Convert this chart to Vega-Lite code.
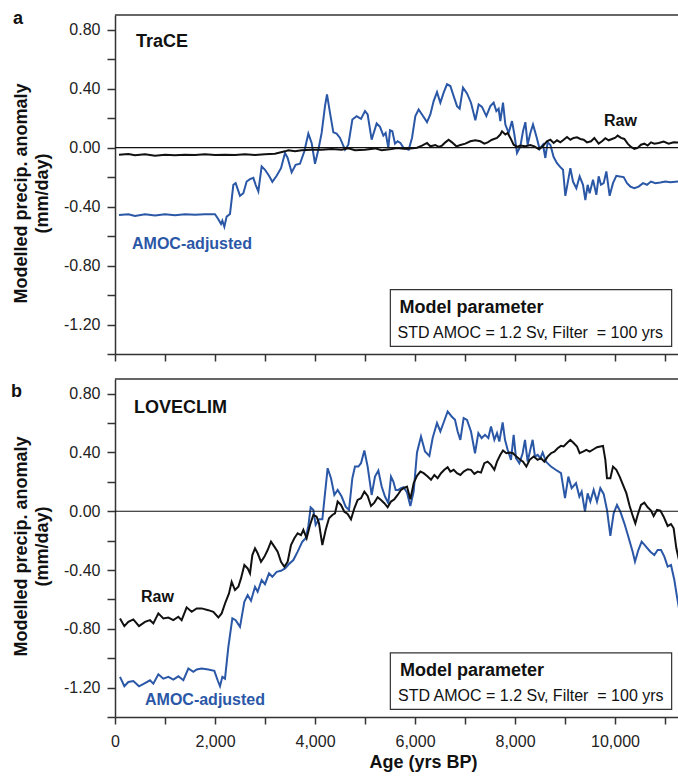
{
  "$schema": "https://vega.github.io/schema/vega-lite/v6.json",
  "padding": {"left": 11, "top": 9, "right": 0, "bottom": 5},
  "spacing": 25,
  "bounds": "flush",
  "config": {
    "font": "Liberation Sans",
    "locale": {"number": {"decimal": ".", "thousands": ",", "grouping": [3], "currency": ["$", ""], "minus": "-"}},
    "view": {"stroke": null},
    "axis": {
      "grid": false,
      "domainColor": "#333333",
      "domainWidth": 1.5,
      "tickColor": "#333333",
      "tickWidth": 1.5,
      "labelFontSize": 16,
      "labelColor": "#222222",
      "labelFlush": false,
      "labelOverlap": false,
      "titleFontSize": 18,
      "titleFontWeight": "bold",
      "titleColor": "#111111"
    },
    "title": {"fontSize": 18, "fontWeight": "bold", "anchor": "start", "frame": "group", "color": "#111111", "offset": 0, "baseline": "alphabetic"}
  },
  "datasets": {
    "trace_adj": [
      {"age": 80, "anomaly": -0.457}, {"age": 267, "anomaly": -0.452}, {"age": 400, "anomaly": -0.464}, {"age": 600, "anomaly": -0.452},
      {"age": 800, "anomaly": -0.46}, {"age": 1000, "anomaly": -0.452}, {"age": 1200, "anomaly": -0.458}, {"age": 1400, "anomaly": -0.452},
      {"age": 1600, "anomaly": -0.455}, {"age": 1800, "anomaly": -0.452}, {"age": 2000, "anomaly": -0.452}, {"age": 2067, "anomaly": -0.486},
      {"age": 2120, "anomaly": -0.518}, {"age": 2147, "anomaly": -0.495}, {"age": 2187, "anomaly": -0.537}, {"age": 2233, "anomaly": -0.468},
      {"age": 2300, "anomaly": -0.45}, {"age": 2367, "anomaly": -0.252}, {"age": 2413, "anomaly": -0.241}, {"age": 2500, "anomaly": -0.327},
      {"age": 2567, "anomaly": -0.309}, {"age": 2633, "anomaly": -0.23}, {"age": 2700, "anomaly": -0.214}, {"age": 2767, "anomaly": -0.205},
      {"age": 2813, "anomaly": -0.252}, {"age": 2867, "anomaly": -0.297}, {"age": 2933, "anomaly": -0.127}, {"age": 3000, "anomaly": -0.15},
      {"age": 3080, "anomaly": -0.191}, {"age": 3147, "anomaly": -0.232}, {"age": 3233, "anomaly": -0.191}, {"age": 3320, "anomaly": -0.139},
      {"age": 3400, "anomaly": -0.036}, {"age": 3453, "anomaly": -0.07}, {"age": 3533, "anomaly": -0.168}, {"age": 3613, "anomaly": -0.116},
      {"age": 3700, "anomaly": -0.109}, {"age": 3787, "anomaly": -0.025}, {"age": 3867, "anomaly": 0.095}, {"age": 3933, "anomaly": 0.032},
      {"age": 4000, "anomaly": -0.109}, {"age": 4067, "anomaly": -0.014}, {"age": 4133, "anomaly": 0.1}, {"age": 4200, "anomaly": 0.282},
      {"age": 4240, "anomaly": 0.361}, {"age": 4300, "anomaly": 0.236}, {"age": 4367, "anomaly": 0.104}, {"age": 4433, "anomaly": 0.095},
      {"age": 4500, "anomaly": 0.066}, {"age": 4600, "anomaly": -0.014}, {"age": 4667, "anomaly": 0.02}, {"age": 4747, "anomaly": 0.191},
      {"age": 4833, "anomaly": 0.214}, {"age": 4920, "anomaly": 0.195}, {"age": 5000, "anomaly": 0.248}, {"age": 5053, "anomaly": 0.225},
      {"age": 5133, "anomaly": 0.054}, {"age": 5233, "anomaly": 0.164}, {"age": 5300, "anomaly": 0.141}, {"age": 5367, "anomaly": 0.082},
      {"age": 5413, "anomaly": 0.1}, {"age": 5467, "anomaly": -0.002}, {"age": 5500, "anomaly": 0.118}, {"age": 5547, "anomaly": 0.111},
      {"age": 5600, "anomaly": 0.027}, {"age": 5653, "anomaly": 0.043}, {"age": 5707, "anomaly": 0.032}, {"age": 5773, "anomaly": -0.002},
      {"age": 5873, "anomaly": -0.014}, {"age": 5940, "anomaly": 0.066}, {"age": 6007, "anomaly": 0.214}, {"age": 6073, "anomaly": 0.259},
      {"age": 6140, "anomaly": 0.225}, {"age": 6240, "anomaly": 0.173}, {"age": 6307, "anomaly": 0.225}, {"age": 6373, "anomaly": 0.316},
      {"age": 6440, "anomaly": 0.377}, {"age": 6507, "anomaly": 0.305}, {"age": 6573, "anomaly": 0.373}, {"age": 6640, "anomaly": 0.43},
      {"age": 6707, "anomaly": 0.418}, {"age": 6773, "anomaly": 0.35}, {"age": 6840, "anomaly": 0.282}, {"age": 6893, "anomaly": 0.264},
      {"age": 6960, "anomaly": 0.407}, {"age": 7040, "anomaly": 0.368}, {"age": 7120, "anomaly": 0.305}, {"age": 7207, "anomaly": 0.186},
      {"age": 7273, "anomaly": 0.293}, {"age": 7340, "anomaly": 0.277}, {"age": 7427, "anomaly": 0.214}, {"age": 7507, "anomaly": 0.282},
      {"age": 7573, "anomaly": 0.305}, {"age": 7627, "anomaly": 0.248}, {"age": 7673, "anomaly": 0.264}, {"age": 7707, "anomaly": 0.18},
      {"age": 7760, "anomaly": 0.305}, {"age": 7807, "anomaly": 0.157}, {"age": 7873, "anomaly": 0.1}, {"age": 7940, "anomaly": 0.18},
      {"age": 7987, "anomaly": 0.091}, {"age": 8040, "anomaly": -0.036}, {"age": 8107, "anomaly": 0.009}, {"age": 8160, "anomaly": 0.111},
      {"age": 8207, "anomaly": 0.173}, {"age": 8253, "anomaly": 0.02}, {"age": 8307, "anomaly": 0.1}, {"age": 8360, "anomaly": 0.157},
      {"age": 8427, "anomaly": 0.077}, {"age": 8493, "anomaly": -0.009}, {"age": 8560, "anomaly": 0.02}, {"age": 8607, "anomaly": -0.07},
      {"age": 8653, "anomaly": 0.036}, {"age": 8707, "anomaly": 0.02}, {"age": 8773, "anomaly": -0.064}, {"age": 8840, "anomaly": -0.105},
      {"age": 8907, "anomaly": -0.132}, {"age": 8960, "anomaly": -0.15}, {"age": 9007, "anomaly": -0.327}, {"age": 9053, "anomaly": -0.241},
      {"age": 9107, "anomaly": -0.139}, {"age": 9160, "anomaly": -0.23}, {"age": 9227, "anomaly": -0.275}, {"age": 9293, "anomaly": -0.195},
      {"age": 9360, "anomaly": -0.252}, {"age": 9407, "anomaly": -0.355}, {"age": 9453, "anomaly": -0.252}, {"age": 9493, "anomaly": -0.309},
      {"age": 9560, "anomaly": -0.218}, {"age": 9627, "anomaly": -0.32}, {"age": 9673, "anomaly": -0.195}, {"age": 9720, "anomaly": -0.252},
      {"age": 9773, "anomaly": -0.241}, {"age": 9827, "anomaly": -0.161}, {"age": 9893, "anomaly": -0.327}, {"age": 9960, "anomaly": -0.241},
      {"age": 10027, "anomaly": -0.191}, {"age": 10093, "anomaly": -0.195}, {"age": 10173, "anomaly": -0.2}, {"age": 10240, "anomaly": -0.241},
      {"age": 10307, "anomaly": -0.264}, {"age": 10387, "anomaly": -0.275}, {"age": 10473, "anomaly": -0.264}, {"age": 10560, "anomaly": -0.241},
      {"age": 10640, "anomaly": -0.252}, {"age": 10720, "anomaly": -0.23}, {"age": 10807, "anomaly": -0.241}, {"age": 10907, "anomaly": -0.236},
      {"age": 11007, "anomaly": -0.23}, {"age": 11107, "anomaly": -0.234}, {"age": 11280, "anomaly": -0.23}
    ],
    "trace_raw": [
      {"age": 80, "anomaly": -0.048}, {"age": 267, "anomaly": -0.043}, {"age": 400, "anomaly": -0.052}, {"age": 600, "anomaly": -0.045},
      {"age": 800, "anomaly": -0.055}, {"age": 1000, "anomaly": -0.048}, {"age": 1200, "anomaly": -0.052}, {"age": 1400, "anomaly": -0.048},
      {"age": 1600, "anomaly": -0.05}, {"age": 1800, "anomaly": -0.045}, {"age": 2000, "anomaly": -0.05}, {"age": 2200, "anomaly": -0.048},
      {"age": 2400, "anomaly": -0.05}, {"age": 2600, "anomaly": -0.045}, {"age": 2800, "anomaly": -0.05}, {"age": 3000, "anomaly": -0.045},
      {"age": 3200, "anomaly": -0.041}, {"age": 3400, "anomaly": -0.025}, {"age": 3467, "anomaly": -0.018}, {"age": 3600, "anomaly": -0.025},
      {"age": 3733, "anomaly": -0.018}, {"age": 3933, "anomaly": -0.014}, {"age": 4133, "anomaly": -0.014}, {"age": 4333, "anomaly": -0.009},
      {"age": 4533, "anomaly": -0.014}, {"age": 4667, "anomaly": -0.005}, {"age": 4800, "anomaly": -0.018}, {"age": 5000, "anomaly": -0.014},
      {"age": 5200, "anomaly": -0.005}, {"age": 5333, "anomaly": -0.018}, {"age": 5533, "anomaly": -0.009}, {"age": 5640, "anomaly": -0.002},
      {"age": 5773, "anomaly": -0.007}, {"age": 5907, "anomaly": -0.005}, {"age": 6040, "anomaly": 0.0}, {"age": 6140, "anomaly": 0.014},
      {"age": 6240, "anomaly": 0.032}, {"age": 6307, "anomaly": 0.009}, {"age": 6407, "anomaly": 0.018}, {"age": 6473, "anomaly": 0.005},
      {"age": 6540, "anomaly": 0.014}, {"age": 6607, "anomaly": 0.036}, {"age": 6673, "anomaly": 0.054}, {"age": 6740, "anomaly": 0.036},
      {"age": 6827, "anomaly": 0.009}, {"age": 6907, "anomaly": 0.018}, {"age": 7007, "anomaly": 0.027}, {"age": 7107, "anomaly": 0.043},
      {"age": 7207, "anomaly": 0.05}, {"age": 7307, "anomaly": 0.043}, {"age": 7387, "anomaly": 0.027}, {"age": 7453, "anomaly": 0.036},
      {"age": 7540, "anomaly": 0.054}, {"age": 7640, "anomaly": 0.066}, {"age": 7707, "anomaly": 0.089}, {"age": 7740, "anomaly": 0.111},
      {"age": 7807, "anomaly": 0.089}, {"age": 7853, "anomaly": 0.1}, {"age": 7907, "anomaly": 0.066}, {"age": 7973, "anomaly": 0.02},
      {"age": 8040, "anomaly": 0.005}, {"age": 8107, "anomaly": 0.014}, {"age": 8207, "anomaly": 0.009}, {"age": 8307, "anomaly": 0.018},
      {"age": 8387, "anomaly": 0.009}, {"age": 8473, "anomaly": -0.009}, {"age": 8540, "anomaly": 0.005}, {"age": 8640, "anomaly": 0.043},
      {"age": 8707, "anomaly": 0.054}, {"age": 8773, "anomaly": 0.032}, {"age": 8840, "anomaly": 0.05}, {"age": 8907, "anomaly": 0.036},
      {"age": 8973, "anomaly": 0.054}, {"age": 9040, "anomaly": 0.072}, {"age": 9107, "anomaly": 0.054}, {"age": 9173, "anomaly": 0.066},
      {"age": 9240, "anomaly": 0.07}, {"age": 9307, "anomaly": 0.059}, {"age": 9373, "anomaly": 0.054}, {"age": 9440, "anomaly": 0.036},
      {"age": 9520, "anomaly": 0.043}, {"age": 9587, "anomaly": 0.066}, {"age": 9673, "anomaly": 0.027}, {"age": 9740, "anomaly": 0.043},
      {"age": 9807, "anomaly": 0.064}, {"age": 9873, "anomaly": 0.05}, {"age": 9940, "anomaly": 0.059}, {"age": 10007, "anomaly": 0.068},
      {"age": 10053, "anomaly": 0.082}, {"age": 10120, "anomaly": 0.066}, {"age": 10187, "anomaly": 0.059}, {"age": 10253, "anomaly": 0.027},
      {"age": 10320, "anomaly": 0.005}, {"age": 10387, "anomaly": -0.009}, {"age": 10453, "anomaly": -0.002}, {"age": 10520, "anomaly": 0.02},
      {"age": 10587, "anomaly": 0.027}, {"age": 10653, "anomaly": 0.014}, {"age": 10720, "anomaly": 0.036}, {"age": 10787, "anomaly": 0.027},
      {"age": 10873, "anomaly": 0.032}, {"age": 10973, "anomaly": 0.041}, {"age": 11073, "anomaly": 0.027}, {"age": 11173, "anomaly": 0.036},
      {"age": 11280, "anomaly": 0.034}
    ],
    "loveclim_adj": [
      {"age": 100, "anomaly": -1.127}, {"age": 187, "anomaly": -1.191}, {"age": 267, "anomaly": -1.162}, {"age": 367, "anomaly": -1.155},
      {"age": 480, "anomaly": -1.191}, {"age": 600, "anomaly": -1.169}, {"age": 700, "anomaly": -1.15}, {"age": 767, "anomaly": -1.173},
      {"age": 867, "anomaly": -1.109}, {"age": 967, "anomaly": -1.139}, {"age": 1067, "anomaly": -1.127}, {"age": 1167, "anomaly": -1.145},
      {"age": 1267, "anomaly": -1.123}, {"age": 1367, "anomaly": -1.15}, {"age": 1467, "anomaly": -1.07}, {"age": 1567, "anomaly": -1.093},
      {"age": 1633, "anomaly": -1.077}, {"age": 1733, "anomaly": -1.07}, {"age": 1867, "anomaly": -1.077}, {"age": 1987, "anomaly": -1.086},
      {"age": 2053, "anomaly": -1.15}, {"age": 2100, "anomaly": -1.191}, {"age": 2147, "anomaly": -1.127}, {"age": 2200, "anomaly": -1.139},
      {"age": 2267, "anomaly": -0.923}, {"age": 2347, "anomaly": -0.729}, {"age": 2413, "anomaly": -0.741}, {"age": 2500, "anomaly": -0.787},
      {"age": 2587, "anomaly": -0.616}, {"age": 2653, "anomaly": -0.57}, {"age": 2720, "anomaly": -0.609}, {"age": 2800, "anomaly": -0.514},
      {"age": 2853, "anomaly": -0.548}, {"age": 2933, "anomaly": -0.468}, {"age": 3000, "anomaly": -0.496}, {"age": 3080, "anomaly": -0.423},
      {"age": 3147, "anomaly": -0.446}, {"age": 3233, "anomaly": -0.412}, {"age": 3320, "anomaly": -0.405}, {"age": 3400, "anomaly": -0.389},
      {"age": 3480, "anomaly": -0.359}, {"age": 3567, "anomaly": -0.332}, {"age": 3653, "anomaly": -0.275}, {"age": 3747, "anomaly": -0.207},
      {"age": 3813, "anomaly": -0.184}, {"age": 3867, "anomaly": -0.1}, {"age": 3913, "anomaly": 0.027}, {"age": 3967, "anomaly": 0.009},
      {"age": 4013, "anomaly": -0.093}, {"age": 4080, "anomaly": -0.055}, {"age": 4147, "anomaly": -0.055}, {"age": 4187, "anomaly": 0.077},
      {"age": 4253, "anomaly": 0.293}, {"age": 4320, "anomaly": 0.225}, {"age": 4387, "anomaly": 0.111}, {"age": 4453, "anomaly": 0.145},
      {"age": 4533, "anomaly": 0.1}, {"age": 4613, "anomaly": 0.031}, {"age": 4680, "anomaly": 0.009}, {"age": 4747, "anomaly": 0.225},
      {"age": 4800, "anomaly": 0.304}, {"age": 4867, "anomaly": 0.304}, {"age": 4920, "anomaly": 0.327}, {"age": 4987, "anomaly": 0.413},
      {"age": 5053, "anomaly": 0.304}, {"age": 5133, "anomaly": 0.111}, {"age": 5200, "anomaly": 0.236}, {"age": 5267, "anomaly": 0.277},
      {"age": 5333, "anomaly": 0.168}, {"age": 5400, "anomaly": 0.1}, {"age": 5467, "anomaly": 0.055}, {"age": 5520, "anomaly": 0.236},
      {"age": 5567, "anomaly": 0.202}, {"age": 5613, "anomaly": 0.145}, {"age": 5667, "anomaly": 0.145}, {"age": 5720, "anomaly": 0.157},
      {"age": 5773, "anomaly": 0.164}, {"age": 5840, "anomaly": 0.127}, {"age": 5907, "anomaly": 0.036}, {"age": 5973, "anomaly": 0.134},
      {"age": 6040, "anomaly": 0.4}, {"age": 6120, "anomaly": 0.509}, {"age": 6200, "anomaly": 0.407}, {"age": 6287, "anomaly": 0.377},
      {"age": 6353, "anomaly": 0.498}, {"age": 6440, "anomaly": 0.6}, {"age": 6507, "anomaly": 0.543}, {"age": 6573, "anomaly": 0.604},
      {"age": 6653, "anomaly": 0.679}, {"age": 6733, "anomaly": 0.645}, {"age": 6800, "anomaly": 0.622}, {"age": 6853, "anomaly": 0.543},
      {"age": 6907, "anomaly": 0.486}, {"age": 6973, "anomaly": 0.634}, {"age": 7040, "anomaly": 0.622}, {"age": 7120, "anomaly": 0.543},
      {"age": 7200, "anomaly": 0.395}, {"age": 7267, "anomaly": 0.532}, {"age": 7333, "anomaly": 0.498}, {"age": 7400, "anomaly": 0.52},
      {"age": 7467, "anomaly": 0.498}, {"age": 7520, "anomaly": 0.577}, {"age": 7587, "anomaly": 0.486}, {"age": 7640, "anomaly": 0.532},
      {"age": 7687, "anomaly": 0.475}, {"age": 7753, "anomaly": 0.604}, {"age": 7800, "anomaly": 0.486}, {"age": 7853, "anomaly": 0.418},
      {"age": 7920, "anomaly": 0.35}, {"age": 7973, "anomaly": 0.52}, {"age": 8020, "anomaly": 0.361}, {"age": 8087, "anomaly": 0.327},
      {"age": 8153, "anomaly": 0.395}, {"age": 8200, "anomaly": 0.486}, {"age": 8253, "anomaly": 0.338}, {"age": 8320, "anomaly": 0.44},
      {"age": 8353, "anomaly": 0.486}, {"age": 8400, "anomaly": 0.372}, {"age": 8453, "anomaly": 0.384}, {"age": 8507, "anomaly": 0.361},
      {"age": 8553, "anomaly": 0.4}, {"age": 8620, "anomaly": 0.338}, {"age": 8720, "anomaly": 0.304}, {"age": 8820, "anomaly": 0.281},
      {"age": 8920, "anomaly": 0.259}, {"age": 9000, "anomaly": 0.089}, {"age": 9067, "anomaly": 0.236}, {"age": 9133, "anomaly": 0.157},
      {"age": 9220, "anomaly": 0.191}, {"age": 9287, "anomaly": 0.1}, {"age": 9333, "anomaly": 0.134}, {"age": 9400, "anomaly": -0.003},
      {"age": 9453, "anomaly": 0.122}, {"age": 9507, "anomaly": 0.066}, {"age": 9573, "anomaly": 0.145}, {"age": 9640, "anomaly": 0.066},
      {"age": 9707, "anomaly": 0.157}, {"age": 9773, "anomaly": 0.118}, {"age": 9840, "anomaly": 0.009}, {"age": 9907, "anomaly": -0.168},
      {"age": 9973, "anomaly": -0.014}, {"age": 10040, "anomaly": 0.043}, {"age": 10107, "anomaly": -0.002}, {"age": 10187, "anomaly": -0.082},
      {"age": 10267, "anomaly": -0.173}, {"age": 10353, "anomaly": -0.275}, {"age": 10400, "anomaly": -0.343}, {"age": 10467, "anomaly": -0.264},
      {"age": 10533, "anomaly": -0.207}, {"age": 10620, "anomaly": -0.241}, {"age": 10707, "anomaly": -0.275}, {"age": 10787, "anomaly": -0.298},
      {"age": 10853, "anomaly": -0.264}, {"age": 10920, "anomaly": -0.264}, {"age": 10987, "anomaly": -0.309}, {"age": 11053, "anomaly": -0.377},
      {"age": 11120, "anomaly": -0.366}, {"age": 11187, "anomaly": -0.468}, {"age": 11240, "anomaly": -0.582}, {"age": 11280, "anomaly": -0.661}
    ],
    "loveclim_raw": [
      {"age": 100, "anomaly": -0.729}, {"age": 187, "anomaly": -0.782}, {"age": 267, "anomaly": -0.753}, {"age": 367, "anomaly": -0.736},
      {"age": 480, "anomaly": -0.782}, {"age": 600, "anomaly": -0.753}, {"age": 700, "anomaly": -0.741}, {"age": 767, "anomaly": -0.763},
      {"age": 867, "anomaly": -0.695}, {"age": 967, "anomaly": -0.729}, {"age": 1067, "anomaly": -0.723}, {"age": 1167, "anomaly": -0.741},
      {"age": 1267, "anomaly": -0.718}, {"age": 1333, "anomaly": -0.741}, {"age": 1433, "anomaly": -0.654}, {"age": 1533, "anomaly": -0.684},
      {"age": 1633, "anomaly": -0.661}, {"age": 1733, "anomaly": -0.661}, {"age": 1867, "anomaly": -0.673}, {"age": 1967, "anomaly": -0.684},
      {"age": 2067, "anomaly": -0.723}, {"age": 2133, "anomaly": -0.695}, {"age": 2213, "anomaly": -0.616}, {"age": 2280, "anomaly": -0.559},
      {"age": 2333, "anomaly": -0.48}, {"age": 2400, "anomaly": -0.536}, {"age": 2467, "anomaly": -0.514}, {"age": 2520, "anomaly": -0.457},
      {"age": 2587, "anomaly": -0.366}, {"age": 2653, "anomaly": -0.389}, {"age": 2700, "anomaly": -0.423}, {"age": 2747, "anomaly": -0.298},
      {"age": 2800, "anomaly": -0.252}, {"age": 2853, "anomaly": -0.286}, {"age": 2920, "anomaly": -0.344}, {"age": 2987, "anomaly": -0.31},
      {"age": 3053, "anomaly": -0.264}, {"age": 3120, "anomaly": -0.207}, {"age": 3187, "anomaly": -0.241}, {"age": 3253, "anomaly": -0.275},
      {"age": 3320, "anomaly": -0.344}, {"age": 3387, "anomaly": -0.378}, {"age": 3453, "anomaly": -0.344}, {"age": 3520, "anomaly": -0.23},
      {"age": 3587, "anomaly": -0.184}, {"age": 3653, "anomaly": -0.15}, {"age": 3720, "anomaly": -0.162}, {"age": 3767, "anomaly": -0.127},
      {"age": 3833, "anomaly": -0.184}, {"age": 3900, "anomaly": -0.093}, {"age": 3967, "anomaly": -0.025}, {"age": 4033, "anomaly": -0.037},
      {"age": 4080, "anomaly": -0.082}, {"age": 4147, "anomaly": -0.23}, {"age": 4213, "anomaly": -0.127}, {"age": 4280, "anomaly": -0.048},
      {"age": 4347, "anomaly": -0.025}, {"age": 4400, "anomaly": -0.014}, {"age": 4453, "anomaly": 0.066}, {"age": 4520, "anomaly": 0.043},
      {"age": 4587, "anomaly": -0.003}, {"age": 4653, "anomaly": -0.018}, {"age": 4720, "anomaly": -0.055}, {"age": 4787, "anomaly": 0.02},
      {"age": 4853, "anomaly": 0.077}, {"age": 4920, "anomaly": 0.089}, {"age": 4987, "anomaly": 0.134}, {"age": 5053, "anomaly": 0.104},
      {"age": 5120, "anomaly": 0.036}, {"age": 5187, "anomaly": 0.059}, {"age": 5253, "anomaly": 0.095}, {"age": 5320, "anomaly": 0.077},
      {"age": 5387, "anomaly": 0.055}, {"age": 5453, "anomaly": 0.027}, {"age": 5520, "anomaly": 0.066}, {"age": 5587, "anomaly": 0.082},
      {"age": 5653, "anomaly": 0.111}, {"age": 5720, "anomaly": 0.145}, {"age": 5773, "anomaly": 0.157}, {"age": 5840, "anomaly": 0.168},
      {"age": 5907, "anomaly": 0.082}, {"age": 5973, "anomaly": 0.191}, {"age": 6040, "anomaly": 0.241}, {"age": 6107, "anomaly": 0.27},
      {"age": 6173, "anomaly": 0.259}, {"age": 6253, "anomaly": 0.236}, {"age": 6320, "anomaly": 0.214}, {"age": 6387, "anomaly": 0.247},
      {"age": 6453, "anomaly": 0.225}, {"age": 6520, "anomaly": 0.259}, {"age": 6587, "anomaly": 0.282}, {"age": 6653, "anomaly": 0.3},
      {"age": 6707, "anomaly": 0.27}, {"age": 6773, "anomaly": 0.282}, {"age": 6840, "anomaly": 0.259}, {"age": 6907, "anomaly": 0.247},
      {"age": 6973, "anomaly": 0.27}, {"age": 7053, "anomaly": 0.286}, {"age": 7120, "anomaly": 0.282}, {"age": 7187, "anomaly": 0.254},
      {"age": 7253, "anomaly": 0.27}, {"age": 7320, "anomaly": 0.263}, {"age": 7387, "anomaly": 0.327}, {"age": 7453, "anomaly": 0.338},
      {"age": 7520, "anomaly": 0.316}, {"age": 7587, "anomaly": 0.282}, {"age": 7640, "anomaly": 0.338}, {"age": 7707, "anomaly": 0.384},
      {"age": 7760, "anomaly": 0.413}, {"age": 7827, "anomaly": 0.395}, {"age": 7893, "anomaly": 0.4}, {"age": 7960, "anomaly": 0.395},
      {"age": 8027, "anomaly": 0.372}, {"age": 8093, "anomaly": 0.354}, {"age": 8160, "anomaly": 0.338}, {"age": 8227, "anomaly": 0.304},
      {"age": 8293, "anomaly": 0.35}, {"age": 8373, "anomaly": 0.372}, {"age": 8453, "anomaly": 0.35}, {"age": 8520, "anomaly": 0.361},
      {"age": 8587, "anomaly": 0.338}, {"age": 8653, "anomaly": 0.372}, {"age": 8720, "anomaly": 0.395}, {"age": 8787, "anomaly": 0.406},
      {"age": 8853, "anomaly": 0.429}, {"age": 8920, "anomaly": 0.445}, {"age": 8973, "anomaly": 0.441}, {"age": 9040, "anomaly": 0.464},
      {"age": 9107, "anomaly": 0.486}, {"age": 9173, "anomaly": 0.464}, {"age": 9240, "anomaly": 0.441}, {"age": 9293, "anomaly": 0.395},
      {"age": 9360, "anomaly": 0.406}, {"age": 9427, "anomaly": 0.418}, {"age": 9493, "anomaly": 0.406}, {"age": 9573, "anomaly": 0.422},
      {"age": 9640, "anomaly": 0.436}, {"age": 9707, "anomaly": 0.441}, {"age": 9760, "anomaly": 0.445}, {"age": 9807, "anomaly": 0.35},
      {"age": 9840, "anomaly": 0.225}, {"age": 9907, "anomaly": 0.225}, {"age": 9960, "anomaly": 0.304}, {"age": 10027, "anomaly": 0.282},
      {"age": 10093, "anomaly": 0.236}, {"age": 10160, "anomaly": 0.179}, {"age": 10227, "anomaly": 0.123}, {"age": 10293, "anomaly": 0.036},
      {"age": 10360, "anomaly": -0.037}, {"age": 10407, "anomaly": -0.082}, {"age": 10453, "anomaly": -0.025}, {"age": 10520, "anomaly": 0.043},
      {"age": 10587, "anomaly": 0.059}, {"age": 10653, "anomaly": 0.027}, {"age": 10720, "anomaly": 0.005}, {"age": 10773, "anomaly": -0.032},
      {"age": 10840, "anomaly": 0.009}, {"age": 10907, "anomaly": 0.005}, {"age": 10973, "anomaly": -0.037}, {"age": 11053, "anomaly": -0.1},
      {"age": 11120, "anomaly": -0.087}, {"age": 11173, "anomaly": -0.116}, {"age": 11227, "anomaly": -0.252}, {"age": 11280, "anomaly": -0.332}
    ]
  },
  "vconcat": [
    {
      "title": {"text": "a", "dx": -102, "dy": 17.5},
      "width": 564,
      "height": 339,
      "resolve": {"axis": {"y": "independent"}},
      "layer": [
        {
          "data": {"name": "trace_adj"},
          "mark": {"type": "line", "color": "#2b57a7", "strokeWidth": 2},
          "encoding": {
            "x": {"field": "age", "type": "quantitative", "scale": {"domain": [0, 11280], "nice": false, "zero": false},
                  "axis": {"title": null, "labels": false, "values": [0, 1000, 2000, 3000, 4000, 5000, 6000, 7000, 8000, 9000, 10000, 11000], "tickSize": 7}},
            "y": {"field": "anomaly", "type": "quantitative", "scale": {"domain": [-1.4, 0.9], "nice": false, "zero": false},
                  "axis": {"orient": "left", "title": ["Modelled precip. anomaly", "(mm/day)"], "titleLineHeight": 21, "titleY": 178, "titlePadding": 12,
                           "values": [-1.2, -0.8, -0.4, 0, 0.4, 0.8], "format": ".2f", "tickSize": 8, "labelPadding": 7}}
          }
        },
        {
          "data": {"name": "trace_raw"},
          "mark": {"type": "line", "color": "#111111", "strokeWidth": 2},
          "encoding": {"x": {"field": "age", "type": "quantitative"}, "y": {"field": "anomaly", "type": "quantitative", "axis": null}}
        },
        {"data": {"values": [{}]}, "mark": {"type": "rule", "color": "#111111", "strokeWidth": 1.2},
         "encoding": {"y": {"datum": 0, "type": "quantitative",
                            "axis": {"orient": "left", "values": [-1.4, -1.0, -0.6, -0.2, 0.2, 0.6], "labels": false, "title": null, "domain": false, "tickSize": 8}}}},
        {"data": {"values": [{}]}, "mark": {"type": "rule", "color": "#333333", "strokeWidth": 1.5}, "encoding": {"y": {"datum": 0.9, "type": "quantitative", "axis": null}}},
        {"data": {"values": [{}]}, "mark": {"type": "text", "text": "TraCE", "fontSize": 18, "fontWeight": "bold", "align": "left", "baseline": "alphabetic", "color": "#111111"},
         "encoding": {"x": {"datum": 420}, "y": {"datum": 0.68, "type": "quantitative", "axis": null}}},
        {"data": {"values": [{}]}, "mark": {"type": "text", "text": "Raw", "fontSize": 16, "fontWeight": "bold", "align": "left", "baseline": "alphabetic", "color": "#111111"},
         "encoding": {"x": {"datum": 9780}, "y": {"datum": 0.15, "type": "quantitative", "axis": null}}},
        {"data": {"values": [{}]}, "mark": {"type": "text", "text": "AMOC-adjusted", "fontSize": 16, "fontWeight": "bold", "align": "left", "baseline": "alphabetic", "color": "#2b57a7"},
         "encoding": {"x": {"datum": 340}, "y": {"datum": -0.69, "type": "quantitative", "axis": null}}},
        {"data": {"values": [{}]}, "mark": {"type": "rect", "fill": "white", "stroke": "#333333", "strokeWidth": 1.2},
         "encoding": {"x": {"datum": 5507}, "x2": {"datum": 11133}, "y": {"datum": -0.963, "type": "quantitative", "axis": null}, "y2": {"datum": -1.348}}},
        {"data": {"values": [{}]}, "mark": {"type": "text", "text": "Model parameter", "fontSize": 18, "fontWeight": "bold", "align": "left", "baseline": "alphabetic", "color": "#111111"},
         "encoding": {"x": {"datum": 5690}, "y": {"datum": -1.12, "type": "quantitative", "axis": null}}},
        {"data": {"values": [{}]}, "mark": {"type": "text", "text": "STD AMOC = 1.2 Sv, Filter\u00a0 = 100 yrs", "fontSize": 16, "align": "left", "baseline": "alphabetic", "color": "#111111"},
         "encoding": {"x": {"datum": 5650}, "y": {"datum": -1.29, "type": "quantitative", "axis": null}}}
      ]
    },
    {
      "title": {"text": "b", "dx": -104, "dy": 27},
      "width": 564,
      "height": 338,
      "resolve": {"axis": {"y": "independent"}},
      "layer": [
        {
          "data": {"name": "loveclim_adj"},
          "mark": {"type": "line", "color": "#2b57a7", "strokeWidth": 2},
          "encoding": {
            "x": {"field": "age", "type": "quantitative", "scale": {"domain": [0, 11280], "nice": false, "zero": false},
                  "axis": {"title": "Age (yrs BP)", "titleX": 308, "titlePadding": 4, "labelPadding": 9.5, "tickSize": 7,
                           "values": [0, 1000, 2000, 3000, 4000, 5000, 6000, 7000, 8000, 9000, 10000, 11000],
                           "labelExpr": "datum.value % 2000 == 0 ? format(datum.value, ',') : ''"}},
            "y": {"field": "anomaly", "type": "quantitative", "scale": {"domain": [-1.4, 0.9], "nice": false, "zero": false},
                  "axis": {"orient": "left", "title": ["Modelled precip. anomaly", "(mm/day)"], "titleLineHeight": 21, "titleY": 167, "titlePadding": 12,
                           "values": [-1.2, -0.8, -0.4, 0, 0.4, 0.8], "format": ".2f", "tickSize": 8, "labelPadding": 7}}
          }
        },
        {
          "data": {"name": "loveclim_raw"},
          "mark": {"type": "line", "color": "#111111", "strokeWidth": 2},
          "encoding": {"x": {"field": "age", "type": "quantitative"}, "y": {"field": "anomaly", "type": "quantitative", "axis": null}}
        },
        {"data": {"values": [{}]}, "mark": {"type": "rule", "color": "#111111", "strokeWidth": 1.2},
         "encoding": {"y": {"datum": 0, "type": "quantitative",
                            "axis": {"orient": "left", "values": [-1.4, -1.0, -0.6, -0.2, 0.2, 0.6], "labels": false, "title": null, "domain": false, "tickSize": 8}}}},
        {"data": {"values": [{}]}, "mark": {"type": "rule", "color": "#333333", "strokeWidth": 1.5}, "encoding": {"y": {"datum": 0.9, "type": "quantitative", "axis": null}}},
        {"data": {"values": [{}]}, "mark": {"type": "text", "text": "LOVECLIM", "fontSize": 18, "fontWeight": "bold", "align": "left", "baseline": "alphabetic", "color": "#111111"},
         "encoding": {"x": {"datum": 380}, "y": {"datum": 0.668, "type": "quantitative", "axis": null}}},
        {"data": {"values": [{}]}, "mark": {"type": "text", "text": "Raw", "fontSize": 16, "fontWeight": "bold", "align": "left", "baseline": "alphabetic", "color": "#111111"},
         "encoding": {"x": {"datum": 520}, "y": {"datum": -0.616, "type": "quantitative", "axis": null}}},
        {"data": {"values": [{}]}, "mark": {"type": "text", "text": "AMOC-adjusted", "fontSize": 16, "fontWeight": "bold", "align": "left", "baseline": "alphabetic", "color": "#2b57a7"},
         "encoding": {"x": {"datum": 600}, "y": {"datum": -1.316, "type": "quantitative", "axis": null}}},
        {"data": {"values": [{}]}, "mark": {"type": "rect", "fill": "white", "stroke": "#333333", "strokeWidth": 1.2},
         "encoding": {"x": {"datum": 5507}, "x2": {"datum": 11133}, "y": {"datum": -0.964, "type": "quantitative", "axis": null}, "y2": {"datum": -1.348}}},
        {"data": {"values": [{}]}, "mark": {"type": "text", "text": "Model parameter", "fontSize": 18, "fontWeight": "bold", "align": "left", "baseline": "alphabetic", "color": "#111111"},
         "encoding": {"x": {"datum": 5700}, "y": {"datum": -1.122, "type": "quantitative", "axis": null}}},
        {"data": {"values": [{}]}, "mark": {"type": "text", "text": "STD AMOC = 1.2 Sv, Filter\u00a0 = 100 yrs", "fontSize": 16, "align": "left", "baseline": "alphabetic", "color": "#111111"},
         "encoding": {"x": {"datum": 5660}, "y": {"datum": -1.29, "type": "quantitative", "axis": null}}}
      ]
    }
  ]
}
